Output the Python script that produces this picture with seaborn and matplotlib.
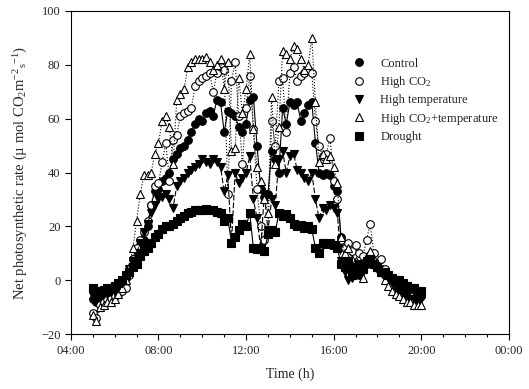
import numpy as np
import pandas as pd
import seaborn as sns
import matplotlib.pyplot as plt
from matplotlib.lines import Line2D
from matplotlib.ticker import MultipleLocator

# measurement times: every 10 min from 05:00 to 20:00 (in hours)
hours = np.arange(91) / 6 + 5

control = [-7, -8, -6, -6, -5.5, -5,
           -5, -4, -2, 1, 4, 8,
           11, 13, 15, 20, 28, 33,
           34, 37, 38, 40, 45, 47,
           49, 50, 52, 55, 58, 60,
           59, 62, 63, 61, 67, 66,
           55, 63, 62, 61, 57, 55,
           58, 67, 68, 50, 34, 31,
           32, 48, 45, 40, 64, 58,
           66, 65, 66, 59, 62, 65,
           66, 51, 40, 39, 40, 39,
           35, 33, 16, 8, 5, 3,
           4, 2, 5, 6, 7, 6,
           5, 4, 2, 1, 0, -2,
           -3, -4, -5, -6, -7, -7,
           -6]

high_co2 = [-12, -14, -9, -8, -7, -7,
            -6, -5, -4, -3, 2, 8,
            12, 15, 18, 22, 28, 35,
            36, 44, 51, 37, 52, 54,
            61, 62, 63, 64, 72, 74,
            75, 76, 77, 70, 77, 79,
            78, 32, 74, 81, 61, 43,
            64, 76, 56, 34, 20, 15,
            18, 59, 50, 74, 75, 55,
            77, 79, 74, 76, 77, 78,
            77, 59, 50, 46, 47, 53,
            37, 30, 15, 12, 14, 11,
            13, 10, 9, 15, 21, 10,
            6, 8, 4, 2, 0, -2,
            -3, -4, -5, -6, -7, -7,
            -6]

high_temp = [-6, -7, -6, -5, -5, -4.5,
             -4, -3, -1, 1, 4, 7,
             10, 14, 18, 21, 25, 28,
             30, 31, 32, 30, 27, 35,
             37, 38, 40, 41, 42, 43,
             45, 44, 43, 45, 44, 42,
             33, 39, 14, 40, 36, 38,
             40, 46, 30, 23, 12, 32,
             18.5, 30, 28, 45, 48, 40,
             46, 47, 41, 40, 38, 37,
             40, 30, 23, 27, 26, 28,
             27, 25, 7, 3, 0, 1,
             4, 5, 3, 6, 7, 5,
             4, 3, 1, 0, -1, -3,
             -4, -5, -6, -7, -7, -8,
             -7]

high_co2_temp = [-13, -15, -10, -9, -8, -8,
                 -7, -5, -3, 0, 5, 12,
                 22, 32, 39, 39, 40, 47,
                 51, 59, 61, 57, 43, 67,
                 69, 71, 79, 81, 82, 82,
                 82, 83, 81, 78, 80, 82,
                 71, 81, 48, 49, 75, 62,
                 71, 84, 56, 42, 37, 30,
                 25, 68, 43, 57, 85, 84,
                 82, 87, 86, 82, 78, 80,
                 90, 66, 44, 47, 45, 46,
                 42, 36, 16, 10, 12, 8,
                 7, 5, 1, 9, 11, 8,
                 5, 3, 0, -2, -4, -5,
                 -6, -7, -8, -8, -9, -9,
                 -9]

drought = [-3, -4, -4, -3.5, -3, -3,
           -2, -1, 0, 2, 3, 5,
           6, 9, 11, 12, 14, 16,
           17, 19, 20, 20, 21, 22,
           23, 24, 25, 25.5, 26, 26,
           26, 26.5, 26, 26, 25.5, 25,
           22, 23, 14, 16, 18.5, 21,
           20, 25, 12, 11.5, 11.5, 11,
           17, 18.5, 18, 25, 24, 24.5,
           23, 21, 20, 20.5, 19.5, 20,
           19, 12, 10, 14, 13.5, 14,
           13, 12, 6, 5, 7, 2,
           5, 6, 4, 7, 8, 6,
           5, 3, 3, 2, 1, 0,
           0, -1, -2, -3, -3, -4,
           -4]

labels = ["Control", "High CO$_2$", "High temperature",
          "High CO$_2$+temperature", "Drought"]
series = [control, high_co2, high_temp, high_co2_temp, drought]
markers = ["o", "o", "v", "^", "s"]
faces = ["black", "white", "black", "white", "black"]
lstyles = ["-", ":", (0, (5, 2)), ":", "-"]

sns.set_style("ticks")
plt.rcParams["font.family"] = ["Liberation Serif", "DejaVu Serif"]
plt.rcParams["mathtext.fontset"] = "custom"
plt.rcParams["mathtext.rm"] = "Liberation Serif"
plt.rcParams["mathtext.it"] = "Liberation Serif:italic"
plt.rcParams["mathtext.default"] = "regular"

fig = plt.figure(figsize=(5.29, 3.89), dpi=100)
ax = fig.add_axes([0.134, 0.141, 0.828, 0.831])

for lab, vals, mk, fc, ls in zip(labels, series, markers, faces, lstyles):
    df = pd.DataFrame({"time": hours, "rate": vals})
    sns.lineplot(data=df, x="time", y="rate", ax=ax, color="black",
                 linewidth=0.8, linestyle=ls, marker=mk, markersize=5.5,
                 markerfacecolor=fc, markeredgecolor="black",
                 markeredgewidth=0.8, legend=False)

ax.set_xlim(4, 24)
ax.set_ylim(-20, 100)
ax.xaxis.set_major_locator(MultipleLocator(4))
ax.xaxis.set_minor_locator(MultipleLocator(1))
ax.yaxis.set_major_locator(MultipleLocator(20))
ax.set_xticks([4, 8, 12, 16, 20, 24])
ax.set_xticklabels(["04:00", "08:00", "12:00", "16:00", "20:00", "00:00"])
ax.tick_params(axis="both", which="major", direction="out", length=4,
               width=0.8, labelsize=9, color="black")
ax.tick_params(axis="x", which="minor", direction="out", length=2.5,
               width=0.8, color="black")
for s in ax.spines.values():
    s.set_linewidth(0.8)
    s.set_color("black")

ax.set_xlabel("Time (h)", fontsize=10, labelpad=8)
ax.set_ylabel("Net photosynthetic rate (\u00b5 mol CO$_2$m$^{-2}$${}_{s}$$^{-1}$)",
              fontsize=10.5, labelpad=8)

handles = [Line2D([], [], linestyle="none", marker=mk, markersize=5.5,
                  markerfacecolor=fc, markeredgecolor="black",
                  markeredgewidth=0.8)
           for mk, fc in zip(markers, faces)]
ax.legend(handles, labels, loc="upper left", bbox_to_anchor=(0.615, 0.89),
          frameon=False, fontsize=9, handlelength=1.2, handletextpad=1.1,
          labelspacing=0.35)

fig.savefig("out.png", dpi=100)
